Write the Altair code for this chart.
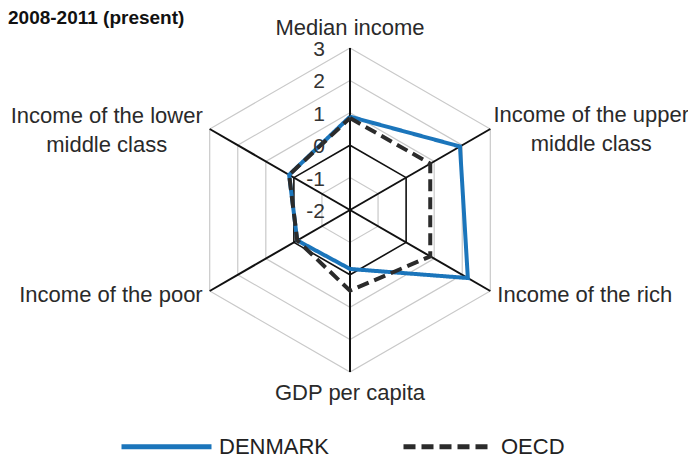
import altair as alt
import pandas as pd

# ---------------- data ----------------
categories = [
    "Median income",
    "Income of the upper\nmiddle class",
    "Income of the rich",
    "GDP per capita",
    "Income of the poor",
    "Income of the lower\nmiddle class",
]
denmark = [0.88, 1.92, 2.2, -0.18, -0.12, 0.17]
oecd = [0.84, 0.86, 0.86, 0.49, -0.12, 0.17]
series_names = ["DENMARK", "OECD"]
grid_levels = [-1, 0, 1, 2, 3]
tick_values = [3, 2, 1, 0, -1, -2]
r_min, r_max = -2, 3
title_text = "2008-2011 (present)"

# ---------------- tables ----------------
n = len(categories)
rows = []
for name, vals in zip(series_names, [denmark, oecd]):
    for k in range(n + 1):
        rows.append({"series": name, "order": k, "idx": k % n, "value": vals[k % n]})
series_df = pd.DataFrame(rows)

grid_df = pd.DataFrame(
    [{"level": lv, "order": k, "idx": k % n, "value": lv} for lv in grid_levels for k in range(n + 1)]
)
axis_df = pd.DataFrame({"idx": list(range(n)), "category": categories, "value": [r_max] * n})
tick_df = pd.DataFrame({"value": tick_values, "label": [str(t) for t in tick_values]})

# ---------------- layout ----------------
W, H = 680, 451
UNIT = 32.4
CX, CY = 342, 202
FONT = "Liberation Sans, Arial, sans-serif"
x_scale = alt.Scale(domain=[-CX / UNIT, (W - CX) / UNIT], nice=False, zero=False)
y_scale = alt.Scale(domain=[-(H - CY) / UNIT, CY / UNIT], nice=False, zero=False)
X = alt.X("px:Q", scale=x_scale, axis=None)
Y = alt.Y("py:Q", scale=y_scale, axis=None)


def polar(ch):
    return ch.transform_calculate(
        r=f"datum.value - ({r_min})", ang=f"datum.idx * 2 * PI / {n}"
    ).transform_calculate(px="datum.r * sin(datum.ang)", py="datum.r * cos(datum.ang)")


grid_gray = polar(alt.Chart(grid_df).transform_filter("datum.level != 0")).mark_line(
    color="#c9c9c9", strokeWidth=1.2
).encode(x=X, y=Y, order="order:Q", detail="level:N")

grid_zero = polar(alt.Chart(grid_df).transform_filter("datum.level == 0")).mark_line(
    color="#111111", strokeWidth=1.6
).encode(x=X, y=Y, order="order:Q", detail="level:N")

spokes = polar(alt.Chart(axis_df)).transform_calculate(cx0="0", cy0="0").mark_rule(
    color="#111111", strokeWidth=2
).encode(
    x=alt.X("cx0:Q", scale=x_scale, axis=None),
    y=alt.Y("cy0:Q", scale=y_scale, axis=None),
    x2="px:Q",
    y2="py:Q",
)

legend = alt.Legend(
    title=None,
    orient="none",
    legendX=111,
    legendY=391,
    direction="horizontal",
    symbolType="stroke",
    symbolSize=8100,
    symbolStrokeWidth=5,
    labelFont=FONT,
    labelFontSize=22,
    labelColor="#222222",
    labelOffset=5,
    columnPadding=63,
    padding=0,
    labelLimit=400,
)

lines = polar(alt.Chart(series_df)).mark_line(strokeWidth=4, strokeJoin="miter").encode(
    x=X,
    y=Y,
    order="order:Q",
    color=alt.Color(
        "series:N",
        scale=alt.Scale(domain=series_names, range=["#1b75bb", "#2b2b2b"]),
        legend=legend,
    ),
    strokeDash=alt.StrokeDash(
        "series:N",
        scale=alt.Scale(domain=series_names, range=[[1, 0], [12, 6]]),
        legend=legend,
    ),
)

ticks = alt.Chart(tick_df).transform_calculate(
    px="0", py=f"datum.value - ({r_min})"
).mark_text(
    align="right", baseline="middle", dx=-25, dy=2, font=FONT, fontSize=21, color="#333333"
).encode(x=X, y=Y, text="label:N")

label_specs = [
    dict(align="center", baseline="alphabetic", dx=0, dy=-13),
    dict(align="center", baseline="top", dx=101, dy=-24),
    dict(align="left", baseline="alphabetic", dx=7, dy=11),
    dict(align="center", baseline="alphabetic", dx=0, dy=28),
    dict(align="right", baseline="alphabetic", dx=-7, dy=11),
    dict(align="center", baseline="top", dx=-103, dy=-23),
]
label_layers = []
for i, spec in enumerate(label_specs):
    label_layers.append(
        polar(alt.Chart(axis_df).transform_filter(f"datum.idx == {i}")).mark_text(
            font=FONT, fontSize=22, color="#2a2a2a", lineBreak="\n", lineHeight=29, **spec
        ).encode(x=X, y=Y, text="category:N")
    )

chart = alt.layer(grid_gray, grid_zero, spokes, lines, ticks, *label_layers).properties(
    width=W,
    height=H,
    padding=0,
    autosize=alt.AutoSizeParams(type="none"),
    background="white",
    title=alt.TitleParams(
        title_text,
        anchor="start",
        frame="group",
        font=FONT,
        fontSize=19,
        fontWeight="bold",
        color="#111111",
        offset=0,
        dy=20,
    ),
).configure_view(stroke=None)

chart.save("out.html", embed_options={"renderer": "svg", "actions": False})
